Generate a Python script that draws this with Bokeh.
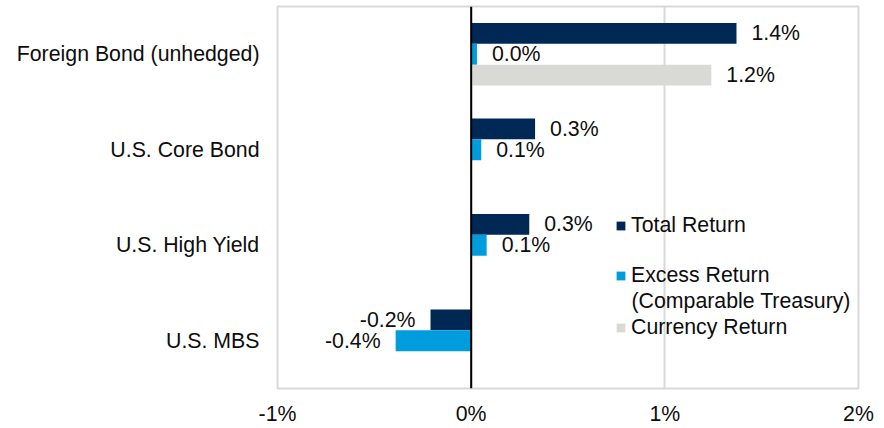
import math
from bokeh.plotting import figure
from bokeh.models import (ColumnDataSource, FactorRange, Range1d, FixedTicker,
                          Span, Legend, LegendItem, Label)
from bokeh.transform import dodge
from bokeh.core.properties import value
from bokeh.embed import file_html
from bokeh.resources import INLINE

# ---- data ----
categories = ["Foreign Bond (unhedged)", "U.S. Core Bond", "U.S. High Yield", "U.S. MBS"]
total_return = [1.37, 0.33, 0.30, -0.21]
excess_return = [0.03, 0.052, 0.08, -0.39]
currency_return = [1.24, None, None, None]
series_names = ["Total Return", "Excess Return", "Currency Return"]
excess_note = "(Comparable Treasury)"
series_colors = ["#002855", "#009CDE", "#D9D9D6"]
x_ticks = [-1, 0, 1, 2]
x_tick_labels = ["-1%", "0%", "1%", "2%"]

FONT = "Liberation Sans"
FS = "21.3px"
TXT = "#0d0d0d"
BAR_H = 0.218
offsets = [BAR_H, 0.0, -BAR_H]

p = figure(y_range=FactorRange(*categories[::-1]), x_range=Range1d(x_ticks[0], x_ticks[-1]),
           width=884, height=428, output_backend="svg", toolbar_location=None,
           min_border_left=277, min_border_right=26, min_border_top=6, min_border_bottom=36)
p.background_fill_color = "white"
p.border_fill_color = "white"
p.outline_line_color = "#D9D9D9"
p.outline_line_width = 2

series_values = [total_return, excess_return, currency_return]
renderers = []
for vals, off, col in zip(series_values, offsets, series_colors):
    xs = [float("nan") if v is None else v for v in vals]
    src = ColumnDataSource(dict(cat=categories, val=xs))
    r = p.hbar(y=dodge("cat", off, range=p.y_range), left=0, right="val", height=BAR_H,
               fill_color=col, line_color=None, source=src)
    renderers.append(r)
    # data labels
    pos = [(c, v) for c, v in zip(categories, vals) if v is not None and v >= 0]
    neg = [(c, v) for c, v in zip(categories, vals) if v is not None and v < 0]
    for group, align, xo in ((pos, "left", 15), (neg, "right", -15)):
        if not group:
            continue
        lsrc = ColumnDataSource(dict(cat=[g[0] for g in group], val=[g[1] for g in group],
                                     lab=[f"{g[1]:.1f}%" for g in group]))
        p.text(x="val", y=dodge("cat", off, range=p.y_range), text="lab", source=lsrc,
               text_align=align, text_baseline="middle", x_offset=xo,
               text_font=value(FONT), text_font_size=FS, text_color=TXT)

# zero line
p.add_layout(Span(location=0, dimension="height", line_color="black", line_width=2))

# axes
ticker = FixedTicker(ticks=x_ticks)
p.xaxis.ticker = ticker
p.xaxis.major_label_overrides = {t: l for t, l in zip(x_ticks, x_tick_labels)}
p.xaxis.axis_line_color = None
p.xaxis.major_tick_line_color = None
p.xaxis.minor_tick_line_color = None
p.xaxis.major_tick_out = 0
p.xaxis.major_label_standoff = 13
p.xaxis.major_label_text_font = FONT
p.xaxis.major_label_text_font_size = FS
p.xaxis.major_label_text_color = TXT

p.yaxis.axis_line_color = None
p.yaxis.major_tick_line_color = None
p.yaxis.minor_tick_line_color = None
p.yaxis.major_tick_out = 0
p.yaxis.major_label_standoff = 18
p.yaxis.major_label_text_font = FONT
p.yaxis.major_label_text_font_size = FS
p.yaxis.major_label_text_color = TXT

p.xgrid.grid_line_color = "#D9D9D9"
p.xgrid.grid_line_width = 2
p.ygrid.grid_line_color = None

def make_legend(items, loc, spacing):
    lg = Legend(items=items, location=loc, border_line_color=None,
                background_fill_alpha=0, padding=0, margin=0, spacing=spacing,
                glyph_width=11, glyph_height=11, label_standoff=5,
                label_text_font=FONT, label_text_font_size=FS,
                label_text_color=TXT, label_height=23)
    p.add_layout(lg)
    return lg

make_legend([LegendItem(label=series_names[0], renderers=[renderers[0]])], (338, 150), 0)
make_legend([LegendItem(label=series_names[1], renderers=[renderers[1]]),
             LegendItem(label=series_names[2], renderers=[renderers[2]])], (338, 48), 27)
p.add_layout(Label(x=354, y=88, x_units="screen", y_units="screen", text=excess_note,
                   text_font=FONT, text_font_size=FS, text_color=TXT,
                   text_baseline="middle", text_align="left"))

open("out.html", "w").write(file_html(p, INLINE))
